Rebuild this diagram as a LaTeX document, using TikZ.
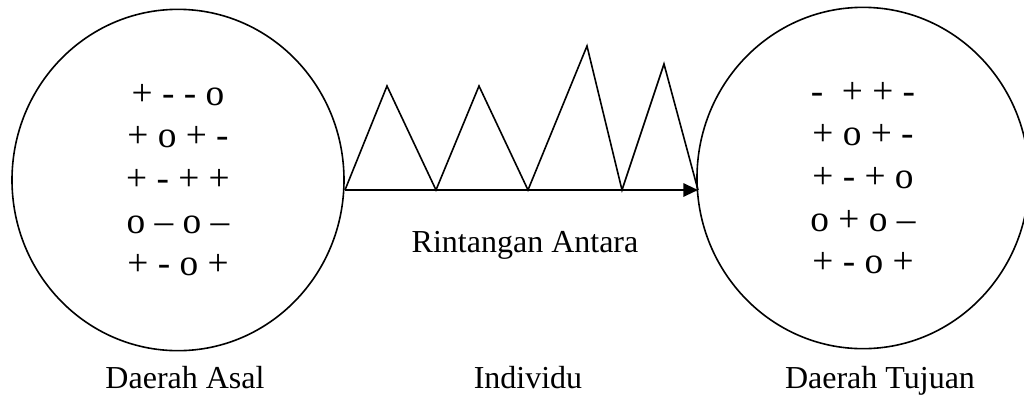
\documentclass[tikz,border=0pt]{standalone}
\usepackage{fontspec}
\setmainfont{Liberation Serif}
\usepackage{tikz}
\usetikzlibrary{shapes.geometric, arrows.meta}
\tikzstyle{region} = [
  ellipse, draw=black, line width=0.6pt,
  minimum width=124.5pt, minimum height=128pt, inner sep=0pt,
  align=center, font=\fontsize{14}{16}\selectfont
]
\tikzstyle{caption} = [
  anchor=base, font=\fontsize{12}{14}\selectfont, inner sep=0pt
]
\tikzstyle{arrow} = [
  -{Triangle[length=5.5pt,width=5pt]}, line width=0.75pt
]
\tikzstyle{barrier} = [
  line width=0.6pt, line join=miter
]

\begin{document}
\begin{tikzpicture}[x=0.375pt, y=-0.375pt]
  \useasboundingbox (0,0) rectangle (1024,394);

  % ── Regions ───────────────────────────────────────────
  \node[region] (asal) at (178,180)
    {+ - - o\\+ o + -\\+ - + +\\o – o –\\+ - o +};
  \node[region] (tujuan) at (863,178)
    {-\ \ + + -\\+ o + -\\+ - + o\\o + o –\\+ - o +};

  % ── Barrier points ────────────────────────────────────
  \coordinate (b0) at (345,190);
  \coordinate (b1) at (436,190);
  \coordinate (b2) at (528,190);
  \coordinate (b3) at (622,190);
  \coordinate (b4) at (698,190);
  \coordinate (peak1) at (387,86);
  \coordinate (peak2) at (479,86);
  \coordinate (peak3) at (587,46);
  \coordinate (peak4) at (664,64);

  % ── Barrier and movement ──────────────────────────────
  \draw[barrier] (b0) -- (peak1) -- (b1) -- (peak2) -- (b2)
    -- (peak3) -- (b3) -- (peak4) -- (b4);
  \draw[arrow] (b0) -- (b4);

  % ── Labels ────────────────────────────────────────────
  \node[caption] (rintangan) at (525,252) {Rintangan Antara};
  \node[caption] (labelasal) at (185,388) {Daerah Asal};
  \node[caption] (individu) at (528,388) {Individu};
  \node[caption] (labeltujuan) at (880,388) {Daerah Tujuan};

\end{tikzpicture}
\end{document}
